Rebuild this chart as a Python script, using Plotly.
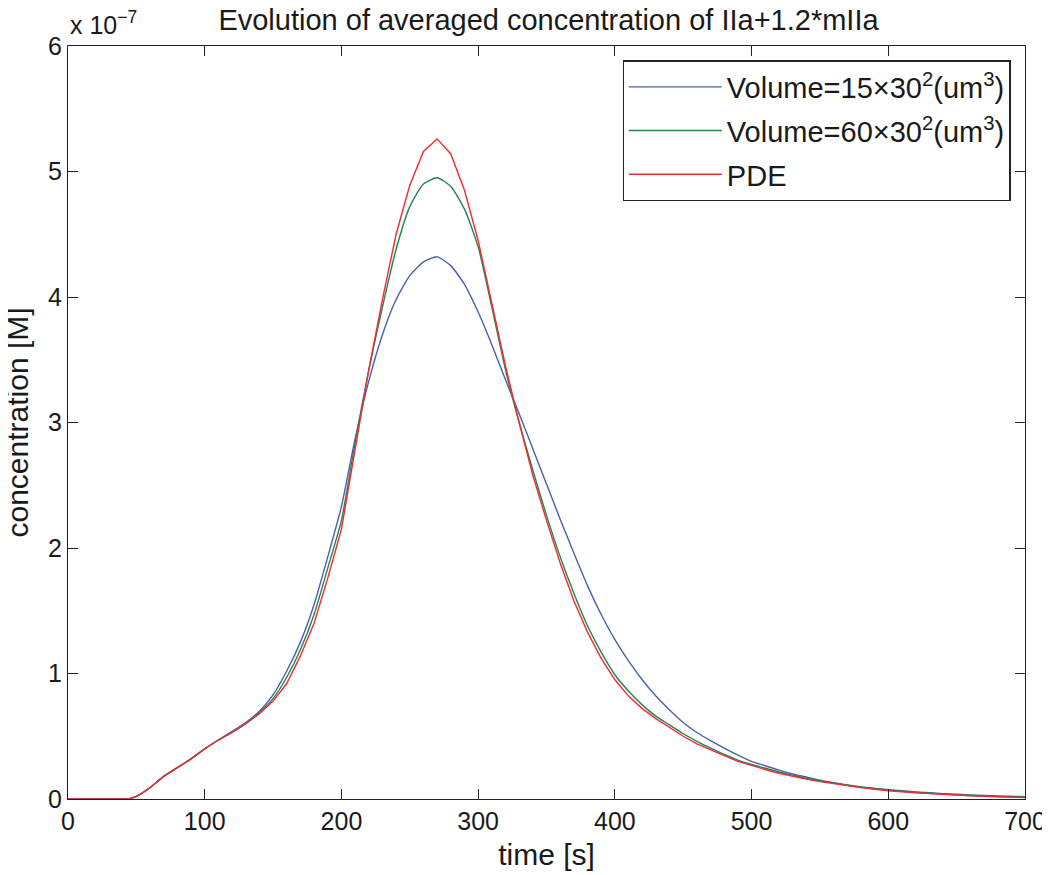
import plotly.graph_objects as go

# time grid [s]
time_s = [0, 10, 20, 30, 40, 45, 50, 60, 70, 80, 90, 100, 110, 120, 130, 140, 150, 160, 170, 180,
          190, 200, 210, 220, 230, 240, 250, 260, 270, 280, 290, 300, 310, 320, 330, 340, 350,
          360, 370, 380, 390, 400, 410, 420, 430, 440, 450, 460, 470, 480, 490, 500, 510, 520,
          530, 540, 550, 560, 570, 580, 590, 600, 620, 640, 660, 680, 700]

# concentrations in units of 1e-7 M
vol15 = [0, 0, 0, 0, 0, 0.003, 0.02, 0.09, 0.18, 0.25, 0.32, 0.40, 0.47, 0.54, 0.61, 0.70, 0.83, 1.02, 1.25, 1.55,
         1.93, 2.33, 2.87, 3.33, 3.70, 3.98, 4.17, 4.28, 4.32, 4.25, 4.10, 3.88, 3.62, 3.34, 3.07, 2.79, 2.51,
         2.23, 1.96, 1.70, 1.47, 1.27, 1.10, 0.95, 0.82, 0.71, 0.61, 0.53, 0.465, 0.405, 0.35, 0.30, 0.265, 0.23,
         0.20, 0.175, 0.15, 0.13, 0.11, 0.095, 0.085, 0.075, 0.057, 0.043, 0.032, 0.024, 0.018]

vol60 = [0, 0, 0, 0, 0, 0.003, 0.02, 0.09, 0.18, 0.25, 0.32, 0.40, 0.47, 0.53, 0.60, 0.69, 0.80, 0.97, 1.19, 1.47,
         1.84, 2.22, 2.84, 3.42, 3.92, 4.38, 4.72, 4.90, 4.95, 4.88, 4.70, 4.40, 3.92, 3.42, 3.00, 2.62, 2.26,
         1.93, 1.64, 1.38, 1.17, 0.99, 0.86, 0.75, 0.66, 0.59, 0.52, 0.46, 0.405, 0.355, 0.31, 0.275, 0.245, 0.215,
         0.19, 0.165, 0.145, 0.128, 0.112, 0.097, 0.083, 0.071, 0.053, 0.039, 0.028, 0.02, 0.014]

pde = [0, 0, 0, 0, 0, 0.003, 0.02, 0.09, 0.18, 0.25, 0.32, 0.40, 0.47, 0.53, 0.60, 0.68, 0.78, 0.92, 1.14, 1.40,
       1.76, 2.15, 2.80, 3.42, 3.98, 4.50, 4.89, 5.16, 5.26, 5.14, 4.85, 4.45, 3.95, 3.45, 3.00, 2.58, 2.22,
       1.88, 1.58, 1.33, 1.12, 0.95, 0.82, 0.72, 0.64, 0.57, 0.50, 0.44, 0.39, 0.345, 0.30, 0.265, 0.235, 0.205,
       0.18, 0.158, 0.138, 0.121, 0.106, 0.092, 0.078, 0.066, 0.05, 0.036, 0.026, 0.018, 0.012]

x_ticks = [0, 100, 200, 300, 400, 500, 600, 700]
y_ticks = [0, 1, 2, 3, 4, 5, 6]

FONT = "Liberation Sans, Arial, sans-serif"
INK = "#1a1a1a"

fig = go.Figure()
fig.add_trace(go.Scatter(x=time_s, y=vol15, mode="lines", name="Volume=15×30<sup>2</sup>(um<sup>3</sup>)",
                         legendgroup="a",
                         line=dict(color="#4a5fae", width=1.4, shape="spline", smoothing=0.6)))
fig.add_trace(go.Scatter(x=time_s, y=vol60, mode="lines", name="Volume=60×30<sup>2</sup>(um<sup>3</sup>)",
                         legendgroup="b",
                         line=dict(color="#23854a", width=1.4, shape="spline", smoothing=0.6)))
fig.add_trace(go.Scatter(x=time_s, y=pde, mode="lines", name="PDE", legendgroup="c",
                         line=dict(color="#ee2b36", width=1.4)))

fig.update_layout(
    width=1042, height=867,
    margin=dict(l=60, r=25, t=38, b=76, autoexpand=False),
    paper_bgcolor="white", plot_bgcolor="white",
    font=dict(family=FONT, size=25, color=INK),
    title=dict(text="Evolution of averaged concentration of IIa+1.2*mIIa", x=0.5187, xanchor="center",
               xref="container", yref="container", y=1.0, yanchor="top", pad=dict(t=2),
               automargin=False, font=dict(size=29)),
    showlegend=True,
    legend=dict(x=0.985, y=0.981, xanchor="right", yanchor="top", bgcolor="white",
                bordercolor="#222", borderwidth=1.2, font=dict(size=29), itemwidth=93,
                tracegroupgap=3),
    xaxis=dict(range=[0, 700], tickvals=x_ticks, ticktext=[str(v) for v in x_ticks],
               showgrid=False, zeroline=False, showline=True, linecolor="#222", linewidth=1.2,
               mirror="ticks", ticks="inside", ticklen=10, tickwidth=1.2, tickcolor="#222",
               automargin=False,
               title=dict(text="time [s]", standoff=9), tickfont=dict(size=25)),
    yaxis=dict(range=[0, 6], tickvals=y_ticks, ticktext=[str(v) for v in y_ticks],
               showgrid=False, zeroline=False, showline=True, linecolor="#222", linewidth=1.2,
               mirror="ticks", ticks="inside", ticklen=10, tickwidth=1.2, tickcolor="#222",
               automargin=False, tickfont=dict(size=25)),
)

fig.add_annotation(text="concentration [M]", xref="paper", yref="paper", x=0.0, y=0.5,
                   xanchor="center", yanchor="middle", xshift=-51, textangle=-90, showarrow=False,
                   font=dict(family=FONT, size=30, color=INK))

fig.add_annotation(text="x 10<sup>−7</sup>", xref="paper", yref="paper", x=0.0, y=1.0,
                   xanchor="left", yanchor="bottom", yshift=5, showarrow=False,
                   font=dict(family=FONT, size=25, color=INK))

fig.write_html("out.html")
